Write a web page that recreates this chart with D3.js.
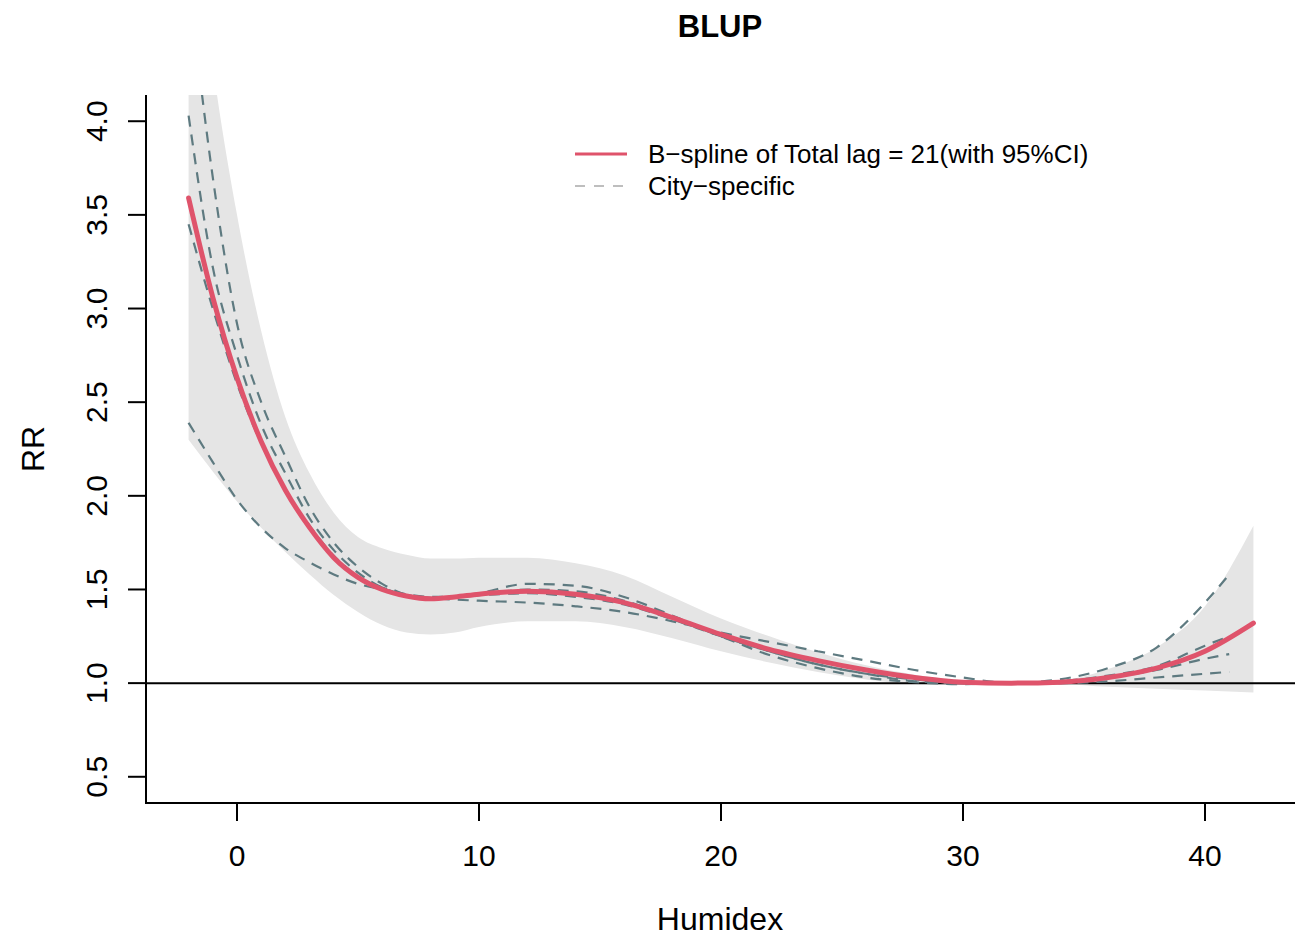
<!DOCTYPE html>
<html><head><meta charset="utf-8">
<script src="https://cdn.jsdelivr.net/npm/d3@7"></script>
<style>body{margin:0;background:#fff}svg{display:block}text{font-family:"Liberation Sans",Arial,sans-serif}</style>
</head><body><svg id="c" width="1295" height="936"></svg>
<script>
// ---- data ----
const xGrid = [-2,-1,0,1,2,3,4,5,6,7,8,9,10,12,14,16,18,20,22,24,26,28,30,32,34,36,38,40,42];
const rrFit = [3.59,3.06,2.63,2.29,2.03,1.83,1.67,1.565,1.50,1.465,1.45,1.46,1.475,1.49,1.475,1.43,1.35,1.26,1.18,1.12,1.07,1.03,1.005,1.0,1.005,1.03,1.08,1.17,1.32];
const ciHigh = [5.4,4.3,3.50,2.88,2.42,2.12,1.91,1.78,1.72,1.685,1.665,1.665,1.67,1.67,1.64,1.575,1.46,1.345,1.25,1.165,1.095,1.045,1.015,1.0,1.012,1.075,1.19,1.41,1.84];
const ciLow = [2.30,2.13,1.97,1.83,1.70,1.58,1.47,1.38,1.31,1.27,1.26,1.27,1.30,1.33,1.33,1.30,1.24,1.17,1.11,1.06,1.02,0.995,0.99,1.0,0.995,0.98,0.97,0.96,0.95];
const cityX = [-2,-1,0,1,2,3,4,5,6,7,8,10,12,14,16,18,20,22,24,26,28,30,32,34,36,38,40,41];
const cityA = [4.75,3.70,2.92,2.50,2.21,1.94,1.75,1.62,1.53,1.47,1.45,1.48,1.53,1.52,1.46,1.36,1.25,1.15,1.08,1.03,1.005,0.995,1.0,1.02,1.08,1.19,1.43,1.58];
const cityB = [4.03,3.22,2.75,2.38,2.12,1.88,1.71,1.59,1.51,1.47,1.45,1.47,1.50,1.49,1.44,1.35,1.25,1.17,1.10,1.05,1.01,1.0,1.0,1.005,1.03,1.07,1.13,1.155];
const cityC = [3.45,3.00,2.60,2.28,2.03,1.84,1.68,1.57,1.51,1.475,1.46,1.47,1.48,1.46,1.42,1.34,1.25,1.17,1.10,1.05,1.02,1.0,1.0,1.01,1.04,1.09,1.20,1.25];
const cityD = [2.39,2.18,1.98,1.83,1.72,1.645,1.58,1.53,1.50,1.47,1.455,1.44,1.43,1.41,1.38,1.33,1.27,1.22,1.17,1.12,1.07,1.03,1.0,1.0,1.01,1.03,1.05,1.06];
const citySeries = [cityA, cityB, cityC, cityD];
const xTicks = [0,10,20,30,40];
const yTicks = [0.5,1.0,1.5,2.0,2.5,3.0,3.5,4.0];
const legendLabels = ["B\u2212spline of Total lag = 21(with 95%CI)", "City\u2212specific"];
const titleText = "BLUP", xTitle = "Humidex", yTitle = "RR";

// ---- layout ----
const svg = d3.select("#c");
const L = 146, R = 1295, T = 95, B = 803;
const x = d3.scaleLinear().domain([-3.76, 43.76]).range([L, R + 1]);
const y = d3.scaleLinear().domain([0.36, 4.14]).range([B, T]);
const red = "#DF536B", dashCol = "#5E7A80", band = "#E5E5E5";

svg.append("defs").append("clipPath").attr("id","clip")
  .append("rect").attr("x",L).attr("y",T).attr("width",R-L).attr("height",B-T);
const g = svg.append("g").attr("clip-path","url(#clip)");

const bandData = xGrid.map((v,i)=>({x:v, lo:ciLow[i], hi:ciHigh[i]}));
g.append("path").datum(bandData)
  .attr("d", d3.area().x(d=>x(d.x)).y0(d=>y(d.lo)).y1(d=>y(d.hi)).curve(d3.curveMonotoneX))
  .attr("fill", band);

// reference line
g.append("line").attr("x1",L).attr("x2",R).attr("y1",y(1)).attr("y2",y(1))
  .attr("stroke","#000").attr("stroke-width",2);

const line = d3.line().curve(d3.curveMonotoneX);
citySeries.forEach(s=>{
  g.append("path").attr("d", line(cityX.map((v,i)=>[x(v), y(s[i])])))
   .attr("fill","none").attr("stroke",dashCol).attr("stroke-width",2.2)
   .attr("stroke-dasharray","11,8");
});
g.append("path").attr("d", line(xGrid.map((v,i)=>[x(v), y(rrFit[i])])))
  .attr("fill","none").attr("stroke",red).attr("stroke-width",5).attr("stroke-linecap","round");

// axes
const ax = svg.append("g");
ax.append("line").attr("x1",L).attr("x2",L).attr("y1",T).attr("y2",B+1).attr("stroke","#000").attr("stroke-width",2);
ax.append("line").attr("x1",L-1).attr("x2",R).attr("y1",B).attr("y2",B).attr("stroke","#000").attr("stroke-width",2);
xTicks.forEach(t=>{
  ax.append("line").attr("x1",x(t)).attr("x2",x(t)).attr("y1",B).attr("y2",B+18).attr("stroke","#000").attr("stroke-width",2);
  ax.append("text").attr("x",x(t)).attr("y",866).attr("text-anchor","middle").attr("font-size",30).text(t);
});
yTicks.forEach(t=>{
  ax.append("line").attr("x1",L-18).attr("x2",L).attr("y1",y(t)).attr("y2",y(t)).attr("stroke","#000").attr("stroke-width",2);
  ax.append("text").attr("transform",`translate(107,${y(t)}) rotate(-90)`).attr("text-anchor","middle").attr("font-size",30).text(t.toFixed(1));
});
svg.append("text").attr("x",720).attr("y",37).attr("text-anchor","middle").attr("font-size",31).attr("font-weight","bold").text(titleText);
svg.append("text").attr("x",720).attr("y",930).attr("text-anchor","middle").attr("font-size",32).text(xTitle);
svg.append("text").attr("transform",`translate(44,${(T+B)/2}) rotate(-90)`).attr("text-anchor","middle").attr("font-size",32).text(yTitle);

// legend
const lg = svg.append("g");
lg.append("line").attr("x1",575).attr("x2",627).attr("y1",154).attr("y2",154).attr("stroke",red).attr("stroke-width",3);
lg.append("line").attr("x1",575).attr("x2",627).attr("y1",186).attr("y2",186).attr("stroke","#BEBEBE").attr("stroke-width",2).attr("stroke-dasharray","10,9");
legendLabels.forEach((s,i)=>{
  lg.append("text").attr("x",648).attr("y",154+i*32+9).attr("font-size",26).text(s);
});
</script></body></html>
